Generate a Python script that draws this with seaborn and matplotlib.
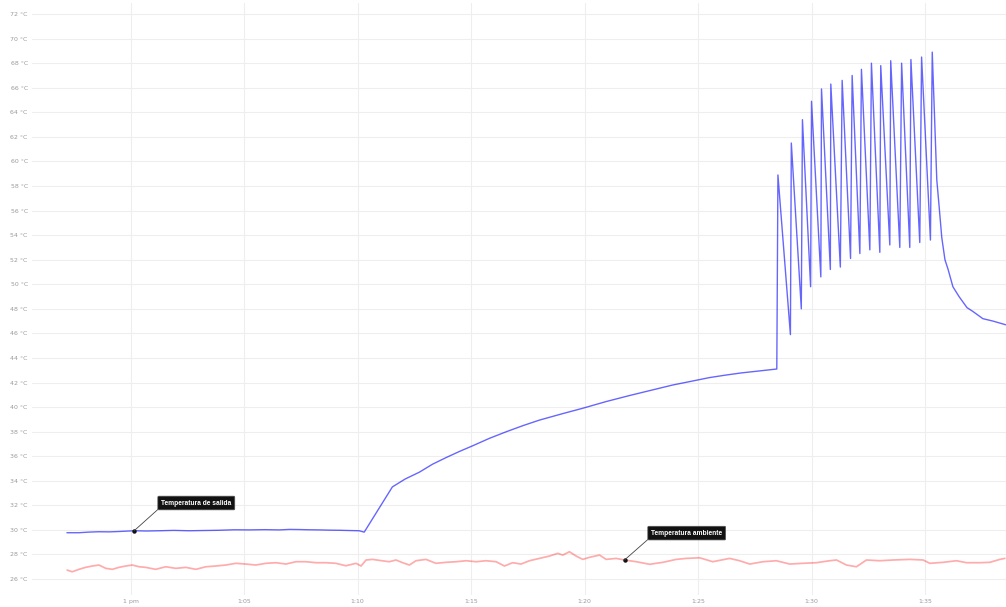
import matplotlib
matplotlib.use("Agg")
import matplotlib.pyplot as plt
import matplotlib.ticker as mticker
import pandas as pd
import seaborn as sns

# Time in minutes after 1 pm, temperatures in °C
outlet_time = [-2.81, -2.28, -1.85, -1.40, -0.95, -0.52, 0.15, 0.70, 1.25, 1.90,
               2.57, 3.20, 3.89, 4.55, 5.22, 5.90, 6.54, 7.00, 7.42, 7.86,
               8.30, 8.75, 9.19, 9.63, 10.07, 10.29,
               11.53, 12.10, 12.72, 13.30, 13.91, 14.50, 15.07, 15.80, 16.56,
               17.30, 18.01, 19.00, 19.91, 20.95, 22.00, 23.00, 23.89,
               24.70, 25.50, 26.20, 26.90, 27.59, 28.47,
               28.52, 29.07, 29.11, 29.55, 29.60, 29.96, 30.00, 30.41, 30.44,
               30.83, 30.85, 31.27, 31.35, 31.72, 31.79, 32.13, 32.20, 32.57,
               32.64, 33.01, 33.05, 33.45, 33.49, 33.89, 33.97, 34.33, 34.38,
               34.77, 34.85, 35.24, 35.32,
               35.52, 35.62, 35.74, 35.88, 36.02, 36.23, 36.50, 36.85, 37.10,
               37.55, 38.00, 38.56]
outlet_temp = [29.77, 29.77, 29.82, 29.85, 29.84, 29.87, 29.93, 29.91, 29.93, 29.96,
               29.93, 29.95, 29.97, 30.01, 30.00, 30.02, 30.00, 30.04, 30.03, 30.01,
               30.00, 29.98, 29.97, 29.95, 29.93, 29.82,
               33.5, 34.15, 34.7, 35.35, 35.9, 36.4, 36.85, 37.45, 38.0,
               38.5, 38.94, 39.45, 39.9, 40.45, 40.95, 41.4, 41.8,
               42.1, 42.4, 42.6, 42.78, 42.92, 43.1,
               58.9, 45.9, 61.5, 48.0, 63.4, 49.8, 64.9, 50.6, 65.9,
               51.2, 66.3, 51.4, 66.6, 52.1, 67.0, 52.5, 67.5, 52.8,
               68.0, 52.6, 67.8, 53.2, 68.2, 53.0, 68.0, 53.0, 68.3,
               53.4, 68.5, 53.6, 68.9,
               58.5, 56.4, 53.8, 52.0, 51.2, 49.8, 49.0, 48.1, 47.8,
               47.2, 47.0, 46.7]

ambient_time = [-2.80, -2.58, -2.28, -1.99, -1.69, -1.40, -1.10, -0.81, -0.52, -0.22,
                0.07, 0.37, 0.66, 1.10, 1.54, 1.99, 2.43, 2.87, 3.31, 3.75,
                4.19, 4.63, 5.07, 5.51, 5.96, 6.40, 6.84, 7.28, 7.72, 8.16,
                8.60, 9.04, 9.48, 9.93, 10.15, 10.37, 10.66, 10.95, 11.39, 11.69,
                11.98, 12.28, 12.57, 13.01, 13.45, 13.89, 14.34, 14.78, 15.22, 15.66,
                16.10, 16.47, 16.83, 17.20, 17.57, 18.01, 18.45, 18.82, 19.04, 19.33,
                19.63, 19.92, 20.22, 20.66, 20.95, 21.39, 21.76, 22.28, 22.87, 23.45,
                24.04, 24.48, 25.07, 25.65, 26.39, 26.83, 27.28, 27.86, 28.45, 29.04,
                29.63, 30.22, 30.80, 31.10, 31.54, 31.98, 32.42, 33.01, 33.59, 34.33,
                34.92, 35.21, 35.80, 36.39, 36.83, 37.42, 37.86, 38.30, 38.52]
ambient_temp = [26.73, 26.59, 26.79, 26.95, 27.06, 27.14, 26.87, 26.79, 26.95, 27.06,
                27.14, 27.00, 26.95, 26.79, 27.00, 26.87, 26.95, 26.79, 27.00, 27.06,
                27.14, 27.28, 27.22, 27.14, 27.28, 27.33, 27.22, 27.41, 27.41, 27.33,
                27.33, 27.28, 27.08, 27.28, 27.06, 27.55, 27.60, 27.52, 27.41, 27.55,
                27.33, 27.14, 27.49, 27.60, 27.28, 27.36, 27.41, 27.49, 27.41, 27.49,
                27.41, 27.06, 27.33, 27.22, 27.49, 27.68, 27.87, 28.09, 27.95, 28.22,
                27.87, 27.60, 27.77, 27.95, 27.60, 27.68, 27.55, 27.41, 27.20, 27.36,
                27.60, 27.68, 27.73, 27.41, 27.68, 27.49, 27.22, 27.41, 27.49, 27.22,
                27.28, 27.33, 27.49, 27.55, 27.14, 27.00, 27.55, 27.49, 27.55, 27.60,
                27.55, 27.28, 27.36, 27.49, 27.33, 27.33, 27.36, 27.60, 27.68]

x_ticks = [0, 5, 10, 15, 20, 25, 30, 35]
x_labels = ["1 pm", "1:05", "1:10", "1:15", "1:20", "1:25", "1:30", "1:35"]
y_ticks = list(range(26, 73, 2))

outlet_label = "Temperatura de salida"
ambient_label = "Temperatura ambiente"
outlet_marker = (0.15, 29.93)
ambient_marker = (21.76, 27.55)

outlet_df = pd.DataFrame({"t": outlet_time, "temp": outlet_temp})
ambient_df = pd.DataFrame({"t": ambient_time, "temp": ambient_temp})

sns.set_theme(style="whitegrid")
plt.rcParams["font.family"] = ["DejaVu Sans"]

W, H = 1006, 607
fig = plt.figure(figsize=(W / 100, H / 100), dpi=100)
ax = fig.add_axes([32 / W, 12 / H, 1 - 32 / W, (595 - 3) / H])

sns.lineplot(data=ambient_df, x="t", y="temp", ax=ax, color="#ff0000",
             alpha=0.33, linewidth=1.25, estimator=None, sort=False)
sns.lineplot(data=outlet_df, x="t", y="temp", ax=ax, color="#0000ff",
             alpha=0.6, linewidth=1.0, estimator=None, sort=False)

ax.set_xlim(-4.35, 38.57)
ax.set_ylim(24.7, 72.9)
ax.xaxis.set_major_locator(mticker.FixedLocator(x_ticks))
ax.set_xticklabels(x_labels)
ax.yaxis.set_major_locator(mticker.FixedLocator(y_ticks))
ax.set_yticklabels([f"{v} °C" for v in y_ticks])
ax.tick_params(axis="both", labelsize=4.5, labelcolor="#9a9a9a", length=0, pad=3)
ax.set_xlabel("")
ax.set_ylabel("")
ax.grid(True, color="#eeeeee", linewidth=0.8)
for s in ax.spines.values():
    s.set_visible(False)

box = dict(boxstyle="round,pad=0.5,rounding_size=0.15", fc="#111111", ec="#555555", lw=0.5)
for (mx, my), label, txt in [(outlet_marker, outlet_label, (2.89, 32.19)),
                             (ambient_marker, ambient_label, (24.5, 29.74))]:
    ax.plot([mx], [my], marker="o", ms=2.2, color="#111111", zorder=5)
    ax.annotate(label, xy=(mx, my), xytext=txt, ha="center", va="center",
                fontsize=4.8, color="white", fontweight="bold",
                family=["Liberation Sans", "DejaVu Sans"], bbox=box,
                arrowprops=dict(arrowstyle="-", color="#444444", lw=0.6,
                                relpos=(0, 0), shrinkA=0, shrinkB=0),
                zorder=6)

fig.savefig("out.png", dpi=100)
